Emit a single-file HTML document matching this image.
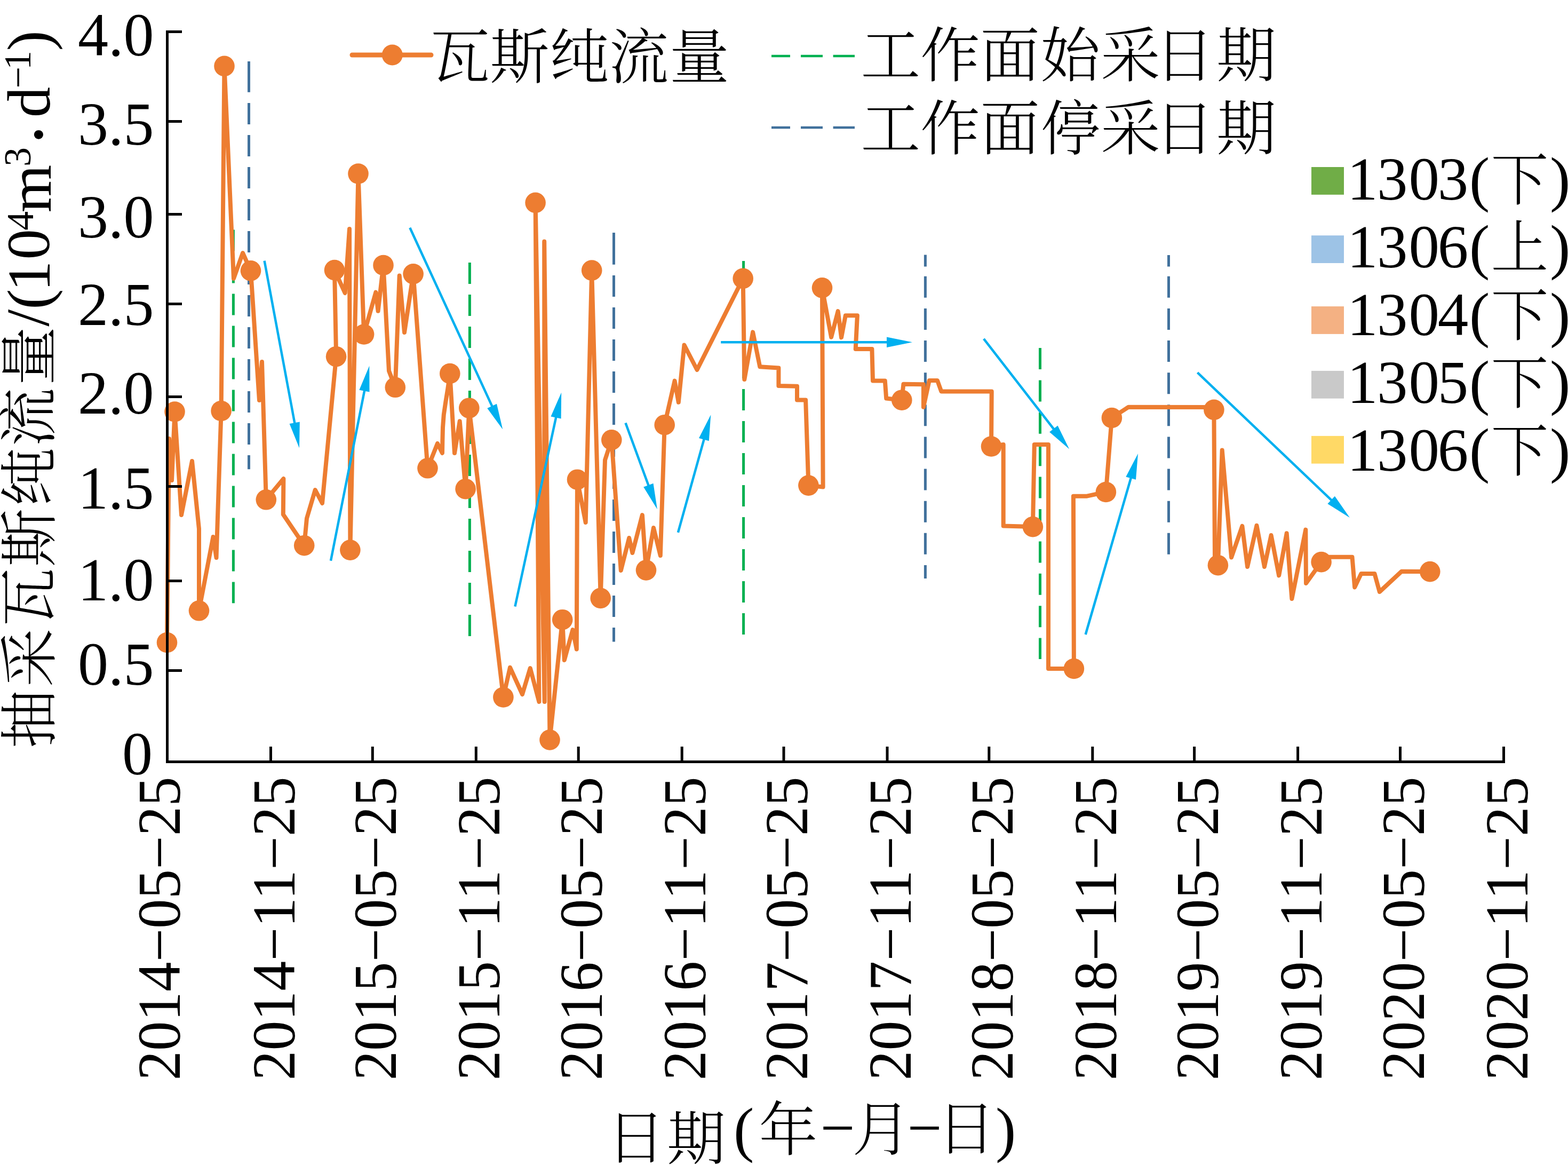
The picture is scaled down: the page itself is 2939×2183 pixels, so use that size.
<!DOCTYPE html><html><head><meta charset="utf-8"><title>抽采瓦斯纯流量</title>
<style>html,body{margin:0;padding:0;background:#fff;}svg{display:block;}.lat{font-family:"Liberation Serif","Noto Serif CJK SC",serif;}.cjk{font-family:"Liberation Serif","Noto Serif CJK SC",serif;font-weight:300;}</style></head><body>
<svg xmlns="http://www.w3.org/2000/svg" width="2939" height="2183" viewBox="0 0 2939 2183">
<rect width="2939" height="2183" fill="#fff"/>
<path d="M437.4 430.5V470.5M437.4 490.5V530.5M437.4 550.5V590.5M437.4 610.5V650.5M437.4 670.5V710.5M437.4 730.5V770.5M437.4 790.5V830.5M437.4 850.5V890.5M437.4 910.5V950.5M437.4 970.5V1010.5M437.4 1030.5V1070.5M437.4 1090.5V1130.2" stroke="#00B050" stroke-width="5" fill="none"/>
<path d="M880.4 492.0V532.0M880.4 552.0V592.0M880.4 612.0V652.0M880.4 672.0V712.0M880.4 732.0V772.0M880.4 792.0V832.0M880.4 852.0V892.0M880.4 912.0V952.0M880.4 972.0V1012.0M880.4 1032.0V1072.0M880.4 1092.0V1132.0M880.4 1152.0V1192.0" stroke="#00B050" stroke-width="5" fill="none"/>
<path d="M1393.6 489.0V529.0M1393.6 549.0V589.0M1393.6 609.0V649.0M1393.6 669.0V709.0M1393.6 729.0V769.0M1393.6 789.0V829.0M1393.6 849.0V889.0M1393.6 909.0V949.0M1393.6 969.0V1009.0M1393.6 1029.0V1069.0M1393.6 1089.0V1129.0M1393.6 1149.0V1189.0" stroke="#00B050" stroke-width="5" fill="none"/>
<path d="M1949.5 652.0V692.0M1949.5 712.4V752.4M1949.5 772.8V812.8M1949.5 833.2V873.2M1949.5 893.6V933.6M1949.5 954.0V994.0M1949.5 1014.4V1054.4M1949.5 1074.8V1114.8M1949.5 1135.2V1175.2M1949.5 1195.6V1235.0" stroke="#00B050" stroke-width="5" fill="none"/>
<path d="M466.5 115.0V172.7M466.5 192.9V232.9M466.5 252.9V292.9M466.5 312.9V352.9M466.5 372.9V412.9M466.5 432.9V472.9M466.5 492.9V532.9M466.5 552.9V592.9M466.5 612.9V652.9M466.5 672.9V712.9M466.5 732.9V772.9M466.5 792.9V832.9M466.5 852.9V879.3" stroke="#41719C" stroke-width="5" fill="none"/>
<path d="M1150.5 436.0V495.8M1150.5 516.1V556.1M1150.5 576.1V616.1M1150.5 636.1V676.1M1150.5 696.1V736.1M1150.5 756.1V796.1M1150.5 816.1V856.1M1150.5 876.1V916.1M1150.5 936.1V976.1M1150.5 996.1V1036.1M1150.5 1056.1V1096.1M1150.5 1116.1V1156.1M1150.5 1176.1V1202.6" stroke="#41719C" stroke-width="5" fill="none"/>
<path d="M1734.4 477.6V499.6M1734.4 517.8V557.8M1734.4 577.9V617.9M1734.4 638.1V678.1M1734.4 698.2V738.2M1734.4 758.3V798.3M1734.4 818.4V858.4M1734.4 878.6V918.6M1734.4 938.7V978.7M1734.4 998.8V1038.8M1734.4 1059.0V1084.0" stroke="#41719C" stroke-width="5" fill="none"/>
<path d="M2190.5 478.0V499.6M2190.5 517.8V557.8M2190.5 577.9V617.9M2190.5 638.1V678.1M2190.5 698.2V738.2M2190.5 758.3V798.3M2190.5 818.4V858.4M2190.5 878.6V918.6M2190.5 938.7V978.7M2190.5 998.8V1038.8" stroke="#41719C" stroke-width="5" fill="none"/>
<path d="M313 1204 L317 822 L322 900 L327.5 771.5 L340 965 L360 864 L373 991 L373 1144.3 L399.5 1006 L405.5 1045 L414.6 770 L420.5 123.8 L438 522 L455 474 L470 507.4 L486 750 L491 678 L498.8 936.3 L531.4 897 L530.8 964 L570.2 1022.2 L575 971.4 L590.8 918 L604 943 L630.1 668.2 L627 506.1 L646.7 549 L655 429 L656.4 1030.6 L671.5 325.5 L682.1 626.5 L704.4 547.6 L708.6 582.8 L718.5 497 L729 695 L740.8 725.8 L748.7 516.5 L758 623 L774.6 513.3 L801.5 877.3 L820 831 L829 849 L829.4 825 L830 801 L831.8 777 L835.4 752.6 L839.3 728.4 L843.3 700 L852 849 L861.7 789.3 L872.6 916.2 L879.3 764.7 L943.4 1306.5 L956 1250.7 L979 1301 L993.8 1252 L1010.4 1315 L1003.6 379.8 L1020.7 1315 L1020.2 452.5 L1030.5 1386.4 L1054.2 1161.2 L1057.8 1237 L1073.5 1180 L1080.8 1216.5 L1082 898.7 L1097.7 979 L1109.2 506.6 L1125.7 1120.9 L1134 862 L1146.3 824.3 L1163.8 1069 L1179.2 1008 L1185.4 1036 L1203.9 965 L1211 1068.4 L1225 989 L1237.8 1041 L1245.7 796.2 L1264.6 713.6 L1271.8 753.8 L1282.5 646.5 L1306.5 693 L1392.7 521.8 L1395.3 711 L1411.1 622.4 L1424.3 687.2 L1459.4 689.5 L1459.4 722.9 L1494 723.8 L1494 749.5 L1510.1 749.5 L1515.4 909.6 L1542.6 912.6 L1541 539.4 L1558.1 631.7 L1570.7 583 L1577 632.4 L1584.8 591.2 L1606.9 591.2 L1603.7 654 L1634.4 654 L1636 713.5 L1658.8 713.5 L1661.2 746.6 L1690.3 749.7 L1693.4 719.8 L1730.9 720.3 L1730.9 762.8 L1741.8 713 L1757 713 L1764.3 733.4 L1858.7 733.4 L1858 836.5 L1880.7 833 L1880.7 985.6 L1935.9 987.1 L1938.8 833 L1965 833 L1965 1253 L2012.9 1253 L2011.9 929.7 L2037.3 929.7 L2072.9 922 L2083.9 783 L2115.3 762.7 L2275.4 763.1 L2275.4 767.8 L2277.1 1059 L2282.9 1059.2 L2290.7 843.4 L2308.1 1044.5 L2328.4 985.7 L2338.1 1062 L2355.5 984.7 L2370 1062 L2382.6 1003 L2397.2 1078.4 L2411.7 999.3 L2421.4 1122 L2447.3 992.6 L2448 1093 L2476.6 1053.1 L2488 1043.8 L2534.5 1043.8 L2539.2 1100.4 L2551.2 1075.1 L2576.5 1075.1 L2585.8 1109 L2627 1070.7 L2680.3 1071.1" stroke="#ED7D31" stroke-width="8" fill="none" stroke-linejoin="round" stroke-linecap="round"/>
<circle cx="313" cy="1204" r="19.3" fill="#ED7D31"/>
<circle cx="327.5" cy="771.5" r="19.3" fill="#ED7D31"/>
<circle cx="373" cy="1144.3" r="19.3" fill="#ED7D31"/>
<circle cx="414.6" cy="770" r="19.3" fill="#ED7D31"/>
<circle cx="420.5" cy="123.8" r="19.3" fill="#ED7D31"/>
<circle cx="470" cy="507.4" r="19.3" fill="#ED7D31"/>
<circle cx="498.8" cy="936.3" r="19.3" fill="#ED7D31"/>
<circle cx="570.2" cy="1022.2" r="19.3" fill="#ED7D31"/>
<circle cx="630.1" cy="668.2" r="19.3" fill="#ED7D31"/>
<circle cx="627" cy="506.1" r="19.3" fill="#ED7D31"/>
<circle cx="656.4" cy="1030.6" r="19.3" fill="#ED7D31"/>
<circle cx="671.5" cy="325.5" r="19.3" fill="#ED7D31"/>
<circle cx="682.1" cy="626.5" r="19.3" fill="#ED7D31"/>
<circle cx="718.5" cy="497" r="19.3" fill="#ED7D31"/>
<circle cx="740.8" cy="725.8" r="19.3" fill="#ED7D31"/>
<circle cx="774.6" cy="513.3" r="19.3" fill="#ED7D31"/>
<circle cx="801.5" cy="877.3" r="19.3" fill="#ED7D31"/>
<circle cx="843.3" cy="700" r="19.3" fill="#ED7D31"/>
<circle cx="872.6" cy="916.2" r="19.3" fill="#ED7D31"/>
<circle cx="879.3" cy="764.7" r="19.3" fill="#ED7D31"/>
<circle cx="943.4" cy="1306.5" r="19.3" fill="#ED7D31"/>
<circle cx="1003.6" cy="379.8" r="19.3" fill="#ED7D31"/>
<circle cx="1030.5" cy="1386.4" r="19.3" fill="#ED7D31"/>
<circle cx="1054.2" cy="1161.2" r="19.3" fill="#ED7D31"/>
<circle cx="1082" cy="898.7" r="19.3" fill="#ED7D31"/>
<circle cx="1109.2" cy="506.6" r="19.3" fill="#ED7D31"/>
<circle cx="1125.7" cy="1120.9" r="19.3" fill="#ED7D31"/>
<circle cx="1146.3" cy="824.3" r="19.3" fill="#ED7D31"/>
<circle cx="1211" cy="1068.4" r="19.3" fill="#ED7D31"/>
<circle cx="1245.7" cy="796.2" r="19.3" fill="#ED7D31"/>
<circle cx="1392.7" cy="521.8" r="19.3" fill="#ED7D31"/>
<circle cx="1515.4" cy="909.6" r="19.3" fill="#ED7D31"/>
<circle cx="1541" cy="539.4" r="19.3" fill="#ED7D31"/>
<circle cx="1690.3" cy="749.7" r="19.3" fill="#ED7D31"/>
<circle cx="1858" cy="836.5" r="19.3" fill="#ED7D31"/>
<circle cx="1935.9" cy="987.1" r="19.3" fill="#ED7D31"/>
<circle cx="2012.9" cy="1253" r="19.3" fill="#ED7D31"/>
<circle cx="2072.9" cy="922" r="19.3" fill="#ED7D31"/>
<circle cx="2083.9" cy="783" r="19.3" fill="#ED7D31"/>
<circle cx="2275.4" cy="767.8" r="19.3" fill="#ED7D31"/>
<circle cx="2282.9" cy="1059.2" r="19.3" fill="#ED7D31"/>
<circle cx="2476.6" cy="1053.1" r="19.3" fill="#ED7D31"/>
<circle cx="2680.3" cy="1071.1" r="19.3" fill="#ED7D31"/>
<line x1="495.6" y1="488.7" x2="552.6" y2="794.3" stroke="#00B0F0" stroke-width="4.5"/><polygon points="561,839.5 542.6,794.1 561.8,790.5" fill="#00B0F0"/>
<line x1="620" y1="1050.7" x2="683.4" y2="730.7" stroke="#00B0F0" stroke-width="4.5"/><polygon points="692.3,685.6 692.5,734.6 673.4,730.8" fill="#00B0F0"/>
<line x1="768.3" y1="426.8" x2="923.0" y2="762.6" stroke="#00B0F0" stroke-width="4.5"/><polygon points="942.2,804.4 913.3,764.9 931.0,756.7" fill="#00B0F0"/>
<line x1="965.4" y1="1136.5" x2="1042.5" y2="780.6" stroke="#00B0F0" stroke-width="4.5"/><polygon points="1052.2,735.6 1051.6,784.6 1032.5,780.4" fill="#00B0F0"/>
<line x1="1172.5" y1="792.4" x2="1216.0" y2="911.0" stroke="#00B0F0" stroke-width="4.5"/><polygon points="1231.9,954.2 1206.2,912.5 1224.5,905.8" fill="#00B0F0"/>
<line x1="1270.9" y1="997.8" x2="1320.0" y2="821.6" stroke="#00B0F0" stroke-width="4.5"/><polygon points="1332.3,777.3 1328.8,826.2 1310.0,820.9" fill="#00B0F0"/>
<line x1="1351.2" y1="641.2" x2="1664.0" y2="641.2" stroke="#00B0F0" stroke-width="4.5"/><polygon points="1710,641.2 1662.0,651.0 1662.0,631.5" fill="#00B0F0"/>
<line x1="1843.9" y1="634.8" x2="1976.0" y2="805.2" stroke="#00B0F0" stroke-width="4.5"/><polygon points="2004.2,841.5 1967.1,809.5 1982.5,797.6" fill="#00B0F0"/>
<line x1="2034.7" y1="1189" x2="2120.2" y2="894.2" stroke="#00B0F0" stroke-width="4.5"/><polygon points="2133,850 2129.0,898.8 2110.3,893.4" fill="#00B0F0"/>
<line x1="2244.5" y1="698.1" x2="2496.6" y2="938.2" stroke="#00B0F0" stroke-width="4.5"/><polygon points="2529.9,969.9 2488.4,943.9 2501.9,929.7" fill="#00B0F0"/>
<path d="M313.5 57V1429.9M311 1427.4H2821" stroke="#000" stroke-width="5" fill="none"/>
<path d="M311 59.5H341M311 227.5H341M311 401.5H341M311 569.4H341M311 743.5H341M311 911.4H341M311 1088.5H341M311 1256.5H341M507.5 1399V1427M698.3 1399V1427M892.3 1399V1427M1084.2 1399V1427M1278.2 1399V1427M1469.0 1399V1427M1663.0 1399V1427M1853.8 1399V1427M2047.8 1399V1427M2238.6 1399V1427M2432.6 1399V1427M2624.5 1399V1427M2818.5 1399V1427" stroke="#000" stroke-width="5" fill="none"/>
<text class="lat" x="288.4" y="104.0" font-size="114" text-anchor="end">4.0</text>
<text class="lat" x="288.4" y="271.3" font-size="114" text-anchor="end">3.5</text>
<text class="lat" x="288.4" y="445.0" font-size="114" text-anchor="end">3.0</text>
<text class="lat" x="288.4" y="609.0" font-size="114" text-anchor="end">2.5</text>
<text class="lat" x="288.4" y="775.0" font-size="114" text-anchor="end">2.0</text>
<text class="lat" x="288.4" y="952.6" font-size="114" text-anchor="end">1.5</text>
<text class="lat" x="288.4" y="1124.5" font-size="114" text-anchor="end">1.0</text>
<text class="lat" x="288.4" y="1283.0" font-size="114" text-anchor="end">0.5</text>
<text class="lat" x="286.0" y="1451.3" font-size="114" text-anchor="end">0</text>
<text class="lat" transform="translate(337.0,2024.4) rotate(-90)" font-size="114" textLength="569" lengthAdjust="spacingAndGlyphs">2014&#8722;05&#8722;25</text>
<text class="lat" transform="translate(551.5,2024.4) rotate(-90)" font-size="114" textLength="569" lengthAdjust="spacingAndGlyphs">2014&#8722;11&#8722;25</text>
<text class="lat" transform="translate(742.3,2024.4) rotate(-90)" font-size="114" textLength="569" lengthAdjust="spacingAndGlyphs">2015&#8722;05&#8722;25</text>
<text class="lat" transform="translate(936.3,2024.4) rotate(-90)" font-size="114" textLength="569" lengthAdjust="spacingAndGlyphs">2015&#8722;11&#8722;25</text>
<text class="lat" transform="translate(1128.2,2024.4) rotate(-90)" font-size="114" textLength="569" lengthAdjust="spacingAndGlyphs">2016&#8722;05&#8722;25</text>
<text class="lat" transform="translate(1322.2,2024.4) rotate(-90)" font-size="114" textLength="569" lengthAdjust="spacingAndGlyphs">2016&#8722;11&#8722;25</text>
<text class="lat" transform="translate(1513.0,2024.4) rotate(-90)" font-size="114" textLength="569" lengthAdjust="spacingAndGlyphs">2017&#8722;05&#8722;25</text>
<text class="lat" transform="translate(1707.0,2024.4) rotate(-90)" font-size="114" textLength="569" lengthAdjust="spacingAndGlyphs">2017&#8722;11&#8722;25</text>
<text class="lat" transform="translate(1897.8,2024.4) rotate(-90)" font-size="114" textLength="569" lengthAdjust="spacingAndGlyphs">2018&#8722;05&#8722;25</text>
<text class="lat" transform="translate(2091.8,2024.4) rotate(-90)" font-size="114" textLength="569" lengthAdjust="spacingAndGlyphs">2018&#8722;11&#8722;25</text>
<text class="lat" transform="translate(2282.6,2024.4) rotate(-90)" font-size="114" textLength="569" lengthAdjust="spacingAndGlyphs">2019&#8722;05&#8722;25</text>
<text class="lat" transform="translate(2476.6,2024.4) rotate(-90)" font-size="114" textLength="569" lengthAdjust="spacingAndGlyphs">2019&#8722;11&#8722;25</text>
<text class="lat" transform="translate(2668.5,2024.4) rotate(-90)" font-size="114" textLength="569" lengthAdjust="spacingAndGlyphs">2020&#8722;05&#8722;25</text>
<text class="lat" transform="translate(2862.5,2024.4) rotate(-90)" font-size="114" textLength="569" lengthAdjust="spacingAndGlyphs">2020&#8722;11&#8722;25</text>
<text class="cjk" x="1137.2" y="2170.7" font-size="110">日</text>
<text class="cjk" x="1250.1" y="2172.8" font-size="110">期</text>
<text class="lat" x="1375.0" y="2154.8" font-size="115">(</text>
<text class="cjk" x="1422.5" y="2156.4" font-size="110">年</text>
<text class="lat" x="1537.8" y="2152.3" font-size="115">−</text>
<text class="cjk" x="1597.5" y="2155.3" font-size="110">月</text>
<text class="lat" x="1700.8" y="2152.3" font-size="115">−</text>
<text class="cjk" x="1756.2" y="2153.8" font-size="110">日</text>
<text class="lat" x="1866.1" y="2154.8" font-size="115">)</text>
<text class="cjk" transform="translate(94.0,1402.4) rotate(-90)" font-size="110">抽</text>
<text class="cjk" transform="translate(94.4,1287.4) rotate(-90)" font-size="110">采</text>
<text class="cjk" transform="translate(93.5,1174.0) rotate(-90)" font-size="110">瓦</text>
<text class="cjk" transform="translate(93.8,1062.5) rotate(-90)" font-size="110">斯</text>
<text class="cjk" transform="translate(93.5,948.5) rotate(-90)" font-size="110">纯</text>
<text class="cjk" transform="translate(92.8,836.7) rotate(-90)" font-size="110">流</text>
<text class="cjk" transform="translate(94.0,722.1) rotate(-90)" font-size="110">量</text>
<text class="lat" transform="translate(90.9,611.8) rotate(-90)" font-size="115">/</text>
<text class="lat" transform="translate(92.9,579.8) rotate(-90)" font-size="115">(</text>
<text class="lat" transform="translate(93.2,546.1) rotate(-90)" font-size="115">1</text>
<text class="lat" transform="translate(92.0,486.6) rotate(-90)" font-size="115">0</text>
<text class="lat" transform="translate(62.1,431.8) rotate(-90)" font-size="72">4</text>
<text class="lat" transform="translate(94.8,398.3) rotate(-90)" font-size="115">m</text>
<text class="lat" transform="translate(57.2,312.1) rotate(-90)" font-size="72">3</text>
<text class="lat" transform="translate(95.9,264.7) rotate(-90)" font-size="71">•</text>
<text class="lat" transform="translate(93.2,220.2) rotate(-90)" font-size="115">d</text>
<text class="lat" transform="translate(57.5,165.6) rotate(-90)" font-size="72">−</text>
<text class="lat" transform="translate(57.4,131.0) rotate(-90)" font-size="72">1</text>
<text class="lat" transform="translate(92.9,95.4) rotate(-90)" font-size="115">)</text>
<path d="M660 103H808" stroke="#ED7D31" stroke-width="9" stroke-linecap="round"/>
<circle cx="735.3" cy="103" r="19.5" fill="#ED7D31"/>
<text class="cjk" y="147" font-size="112" x="806.4 917.9 1030.1 1141.4 1254.9">瓦斯纯流量</text>
<path d="M1446 105H1481M1501 105H1542M1561.6 105H1602" stroke="#00B050" stroke-width="4.5"/>
<path d="M1446 239H1481M1501 239H1542M1561.6 239H1602" stroke="#41719C" stroke-width="4.5"/>
<text class="cjk" y="144.3" font-size="112" x="1613.3 1724.9 1837.1 1950.5 2063 2164.2 2279.9">工作面始采日期</text>
<text class="cjk" y="280.5" font-size="112" x="1613.3 1724.9 1837.1 1950.5 2063 2164.2 2279.9">工作面停采日期</text>
<rect x="2458" y="313.0" width="61" height="51.8" fill="#70AD47"/>
<text class="lat" y="373.9" font-size="115" x="2525 2581 2640.4 2694.7 2754">1303(</text>
<text class="cjk" y="375.3" font-size="108" x="2794.5">下</text>
<text class="lat" y="373.9" font-size="115" x="2905.1">)</text>
<rect x="2458" y="441.2" width="61" height="51.8" fill="#9DC3E6"/>
<text class="lat" y="500.9" font-size="115" x="2525 2581 2640.4 2694.7 2754">1306(</text>
<text class="cjk" y="502.3" font-size="108" x="2794.5">上</text>
<text class="lat" y="500.9" font-size="115" x="2905.1">)</text>
<rect x="2458" y="574.1" width="61" height="51.8" fill="#F4B183"/>
<text class="lat" y="627.9" font-size="115" x="2525 2581 2640.4 2694.7 2754">1304(</text>
<text class="cjk" y="629.3" font-size="108" x="2794.5">下</text>
<text class="lat" y="627.9" font-size="115" x="2905.1">)</text>
<rect x="2458" y="694.9" width="61" height="51.8" fill="#C9C9C9"/>
<text class="lat" y="754.9" font-size="115" x="2525 2581 2640.4 2694.7 2754">1305(</text>
<text class="cjk" y="756.3" font-size="108" x="2794.5">下</text>
<text class="lat" y="754.9" font-size="115" x="2905.1">)</text>
<rect x="2458" y="816.9" width="61" height="51.8" fill="#FFD966"/>
<text class="lat" y="881.9" font-size="115" x="2525 2581 2640.4 2694.7 2754">1306(</text>
<text class="cjk" y="883.3" font-size="108" x="2794.5">下</text>
<text class="lat" y="881.9" font-size="115" x="2905.1">)</text>
</svg></body></html>
